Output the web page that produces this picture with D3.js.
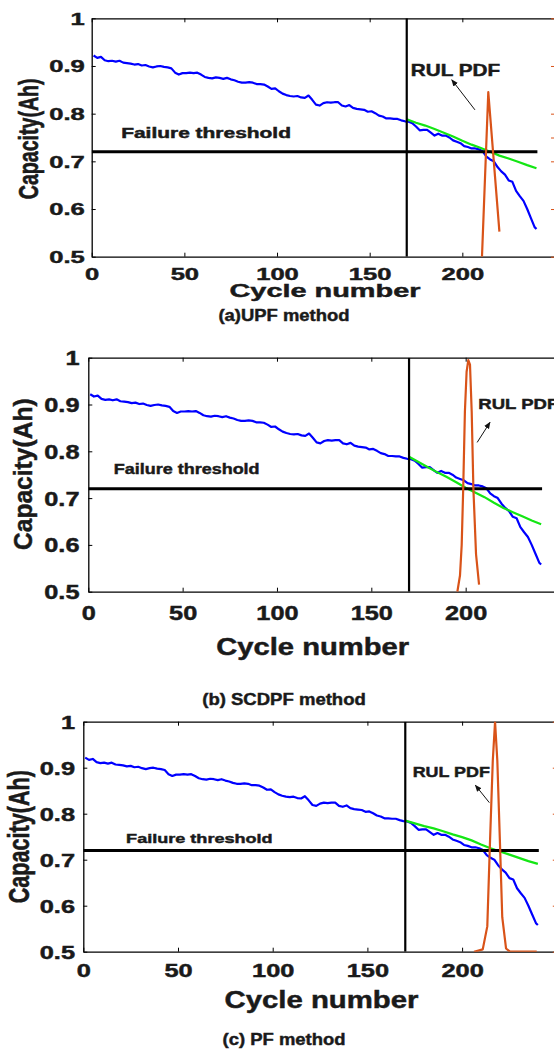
<!DOCTYPE html>
<html>
<head>
<meta charset="utf-8">
<script src="https://cdn.jsdelivr.net/npm/d3@7"></script>
<style>
body { margin: 0; background: #fff; }
text { font-family: "Liberation Sans", Arial, sans-serif; font-weight: bold; fill: #1a1a1a; stroke: #1a1a1a; stroke-width: 0.45; }
</style>
</head>
<body>
<div id="chart"></div>
<script>
// measured capacity (same battery in all three panels)
var cycles = [1,3,5,7,9,11,13,15,17,19,21,23,25,27,29,31,33,35,37,39,
	41,43,45,47,49,51,53,55,57,59,61,63,65,67,69,71,73,75,77,79,
	81,83,85,87,89,91,93,95,97,99,101,103,105,107,109,111,113,115,117,119,
	121,123,125,127,129,131,133,135,137,139,141,143,145,147,149,151,153,155,157,159,
	161,163,165,167,169,171,173,175,177,179,181,183,185,187,189,191,193,195,197,199,
	201,203,205,207,209,211,213,215,217,219,221,223,225,227,229,231,233,235,237,239,240];
var capacity = [0.922,0.917,0.919,0.912,0.910,0.911,0.909,0.911,0.907,0.906,
	0.905,0.903,0.904,0.901,0.902,0.899,0.897,0.899,0.900,0.898,
	0.897,0.895,0.886,0.882,0.885,0.885,0.886,0.885,0.886,0.882,
	0.877,0.875,0.874,0.876,0.875,0.873,0.875,0.872,0.870,0.867,
	0.865,0.865,0.866,0.865,0.862,0.862,0.861,0.857,0.852,0.853,
	0.847,0.842,0.839,0.837,0.836,0.837,0.834,0.833,0.838,0.829,
	0.819,0.817,0.822,0.824,0.823,0.824,0.824,0.817,0.815,0.818,
	0.812,0.810,0.809,0.808,0.804,0.805,0.801,0.796,0.794,0.790,
	0.790,0.789,0.789,0.786,0.784,0.783,0.780,0.773,0.765,0.766,
	0.766,0.760,0.754,0.758,0.754,0.754,0.750,0.744,0.741,0.738,
	0.732,0.730,0.727,0.727,0.725,0.721,0.710,0.704,0.700,0.688,
	0.679,0.672,0.660,0.657,0.638,0.627,0.617,0.600,0.581,0.562,0.558];

var threshold = 0.72;
var startCycle = 170;
var thresholdEnd = 240.5;

// predicted capacity after cycle 170
var predCycles = [170,175,180,185,190,195,200,205,210,215,220,225,230,235,240];
var predUPF   = [0.788,0.781,0.775,0.768,0.760,0.752,0.743,0.735,0.728,0.720,0.712,0.706,0.699,0.692,0.6855];
var predSCDPF = [0.7885,0.777,0.766,0.755,0.745,0.734,0.722,0.712,0.702,0.690,0.679,0.670,0.661,0.652,0.644];
var predPF    = [0.785,0.779,0.773,0.768,0.762,0.755,0.749,0.742,0.733,0.725,0.718,0.711,0.704,0.697,0.691];

// RUL pdf (right axis)
var pdfCycUPF = [210.6,214,220];
var pdfUPF    = [0,0.69,0.105];
var pdfCycSCDPF = [195.6,197,197.9,198.7,199.6,200.5,201.4,202.3,203.2,204.1,205.5,207.1];
var pdfSCDPF    = [0,0.07,0.2,0.44,0.77,0.94,0.99,0.97,0.77,0.44,0.16,0.03];
var pdfCycPF = [206.3,210.9,213.3,214.7,216.2,217.4,218.6,220,221.2,223.2,225.3,239.4];
var pdfPF    = [0,0.01,0.11,0.47,0.83,1.0,0.83,0.47,0.15,0.014,0,0];

var xTicks = [0,50,100,150,200,250];
var xTickLabels = [0,50,100,150,200];
var yTicks = [0.5,0.6,0.7,0.8,0.9,1];
var pdfTicksA = [0,0.2,0.4,0.5,0.6,0.8,1];
var pdfTicksB = [0,0.2,0.4,0.6,0.8,1];

var titles = ["(a)UPF method", "(b) SCDPF method", "(c) PF method"];

// annotation anchors, in data units [cycle, capacity]
var thrTextAt = [[15.9,0.750],[13.5,0.7515],[22.6,0.737]];
var rulTextAt = [[172.2,0.878],[206.7,0.890],[173.9,0.880]];
var arrowFrom = [[206.8,0.808],[206.1,0.819],[214.4,0.824]];
var arrowTo   = [[194.3,0.871],[212.9,0.862],[207.0,0.862]];

function init(){
	var W = 554, H = 1050;

	var svg = d3.select("#chart")
				.append("svg")
				.attr("width", W)
				.attr("height", H);

	var defs = svg.append("defs");
	defs.append("marker")
		.attr("id", "head")
		.attr("viewBox", "0 0 10 10")
		.attr("refX", 9).attr("refY", 5)
		.attr("markerWidth", 7).attr("markerHeight", 7)
		.attr("markerUnits", "userSpaceOnUse")
		.attr("orient", "auto")
		.append("path")
		.attr("d", "M0,1 L10,5 L0,9 Z")
		.attr("fill", "#111");

	// layout of the three stacked plots (pixels)
	var panels = [
		{left:91.7, right:555, top:18.3, bottom:256.7,
		 tickFs:16.5, tickSx:1.55, yGap:6.9, xBase:23.3,
		 xlab:{x:325, y:297, fs:18.6, w:191},
		 ylab:{x:38.3, y:138.8, fs:19.6, sy:1.44},
		 thrFs:14, thrW:170, rulFs:16, rulW:89.3,
		 title:{x:284, y:320.5, fs:16.3, w:131},
		 pred:predUPF, pdfC:pdfCycUPF, pdf:pdfUPF, pdfTicks:pdfTicksA},
		{left:88.3, right:560, top:357.7, bottom:591.7,
		 tickFs:19.5, tickSx:1.3, yGap:8.8, xBase:28.3,
		 xlab:{x:312.7, y:655, fs:23, w:193},
		 ylab:{x:31.8, y:474.2, fs:24.6, sy:1.02},
		 thrFs:15, thrW:146, rulFs:15, rulW:80,
		 title:{x:284, y:705, fs:16.5, w:163.7},
		 pred:predSCDPF, pdfC:pdfCycSCDPF, pdf:pdfSCDPF, pdfTicks:pdfTicksB},
		{left:83.3, right:556.8, top:721.7, bottom:951.7,
		 tickFs:17.5, tickSx:1.45, yGap:8.3, xBase:25.6,
		 xlab:{x:321.5, y:1008.3, fs:23, w:194},
		 ylab:{x:29.2, y:836.7, fs:21.6, sy:1.35},
		 thrFs:13.5, thrW:146.7, rulFs:15, rulW:77.3,
		 title:{x:284, y:1045, fs:16.5, w:123},
		 pred:predPF, pdfC:pdfCycPF, pdf:pdfPF, pdfTicks:pdfTicksB}
	];

	//text stretched horizontally to a measured width
	function addText(g, str, x, y, fs, w, anchor){
		var t = g.append("text")
			.attr("font-size", fs)
			.attr("text-anchor", anchor || "start")
			.text(str);
		var n = t.node().getComputedTextLength();
		var k = w ? w / n : 1;
		t.attr("transform", "translate(" + x + "," + y + ") scale(" + k + ",1)");
		return t;
	}

	panels.forEach(function(p, i){
		var x = d3.scaleLinear().domain([0, 250]).range([p.left, p.right]);
		var y = d3.scaleLinear().domain([0.5, 1]).range([p.bottom, p.top]);
		var yPdf = d3.scaleLinear().domain([0, 1]).range([p.bottom, p.top]);

		var g = svg.append("g");

		defs.append("clipPath").attr("id", "clip" + i)
			.append("rect")
			.attr("x", p.left).attr("y", p.top)
			.attr("width", p.right - p.left).attr("height", p.bottom - p.top);

		// box and ticks
		var bottomAxis = g.append("g")
			.attr("transform", "translate(0," + p.bottom + ")")
			.call(d3.axisBottom(x).tickValues(xTicks).tickSizeInner(-4).tickSizeOuter(0)
				.tickFormat(function(d){ return xTickLabels.indexOf(d) >= 0 ? d : ""; }));
		bottomAxis.selectAll("text")
			.attr("y", null).attr("dy", null)
			.attr("font-size", p.tickFs)
			.attr("transform", "translate(0," + p.xBase + ") scale(" + p.tickSx + ",1)");

		g.append("g")
			.attr("transform", "translate(0," + p.top + ")")
			.call(d3.axisTop(x).tickValues(xTicks).tickSizeInner(-4).tickSizeOuter(0).tickFormat(""));

		var leftAxis = g.append("g")
			.attr("transform", "translate(" + p.left + ",0)")
			.call(d3.axisLeft(y).tickValues(yTicks).tickSizeInner(-4).tickSizeOuter(0)
				.tickFormat(function(d){ return d === 1 ? "1" : d3.format(".1f")(d); }));
		leftAxis.selectAll("text")
			.attr("x", -p.yGap / p.tickSx).attr("dy", "0.36em")
			.attr("font-size", p.tickFs)
			.attr("transform", "scale(" + p.tickSx + ",1)");

		g.selectAll(".tick text").attr("fill", "#1a1a1a").attr("stroke", "#1a1a1a");

		var rightAxis = g.append("g")
			.attr("transform", "translate(" + p.right + ",0)")
			.call(d3.axisRight(yPdf).tickValues(p.pdfTicks).tickSizeInner(-4).tickSizeOuter(0).tickFormat(""));
		rightAxis.selectAll("line").attr("stroke", "#d95319");
		rightAxis.select(".domain").attr("stroke", "#d95319");

		g.selectAll(".domain").attr("stroke-width", 1.3);
		g.selectAll(".tick line").attr("stroke-width", 1);

		var plot = g.append("g").attr("clip-path", "url(#clip" + i + ")");

		// measured capacity
		var line = d3.line()
			.x(function(d, j){ return x(cycles[j]); })
			.y(function(d){ return y(d); });
		plot.append("path")
			.datum(capacity)
			.attr("d", line)
			.attr("fill", "none")
			.attr("stroke", "#0000ff")
			.attr("stroke-width", 2.2)
			.attr("stroke-linejoin", "round");

		// predicted
		var predLine = d3.line()
			.x(function(d, j){ return x(predCycles[j]); })
			.y(function(d){ return y(d); });
		plot.append("path")
			.datum(p.pred)
			.attr("d", predLine)
			.attr("fill", "none")
			.attr("stroke", "#14e614")
			.attr("stroke-width", 2.2);

		// failure threshold
		plot.append("line")
			.attr("x1", x(0)).attr("x2", x(thresholdEnd))
			.attr("y1", y(threshold)).attr("y2", y(threshold))
			.attr("stroke", "#000").attr("stroke-width", 3);

		// prediction start
		plot.append("line")
			.attr("x1", x(startCycle)).attr("x2", x(startCycle))
			.attr("y1", y(0.5)).attr("y2", y(1))
			.attr("stroke", "#000").attr("stroke-width", 2.2);

		// RUL pdf
		var pdfLine = d3.line()
			.x(function(d, j){ return x(p.pdfC[j]); })
			.y(function(d){ return yPdf(d); });
		plot.append("path")
			.datum(p.pdf)
			.attr("d", pdfLine)
			.attr("fill", "none")
			.attr("stroke", "#d95319")
			.attr("stroke-width", 2.2)
			.attr("stroke-linejoin", "round");

		// annotations
		addText(g, "Failure threshold", x(thrTextAt[i][0]), y(thrTextAt[i][1]), p.thrFs, p.thrW);
		addText(g, "RUL PDF", x(rulTextAt[i][0]), y(rulTextAt[i][1]), p.rulFs, p.rulW);
		g.append("line")
			.attr("x1", x(arrowFrom[i][0])).attr("y1", y(arrowFrom[i][1]))
			.attr("x2", x(arrowTo[i][0])).attr("y2", y(arrowTo[i][1]))
			.attr("stroke", "#111").attr("stroke-width", 1)
			.attr("marker-end", "url(#head)");

		// axis titles
		addText(g, "Cycle number", p.xlab.x, p.xlab.y, p.xlab.fs, p.xlab.w, "middle");
		g.append("text")
			.attr("font-size", p.ylab.fs)
			.attr("text-anchor", "middle")
			.attr("transform", "translate(" + p.ylab.x + "," + p.ylab.y + ") rotate(-90) scale(1," + p.ylab.sy + ")")
			.text("Capacity(Ah)");

		addText(g, titles[i], p.title.x, p.title.y, p.title.fs, p.title.w, "middle")
			.attr("stroke-width", 0.2);
	});
}

window.onload = init;
</script>
</body>
</html>
